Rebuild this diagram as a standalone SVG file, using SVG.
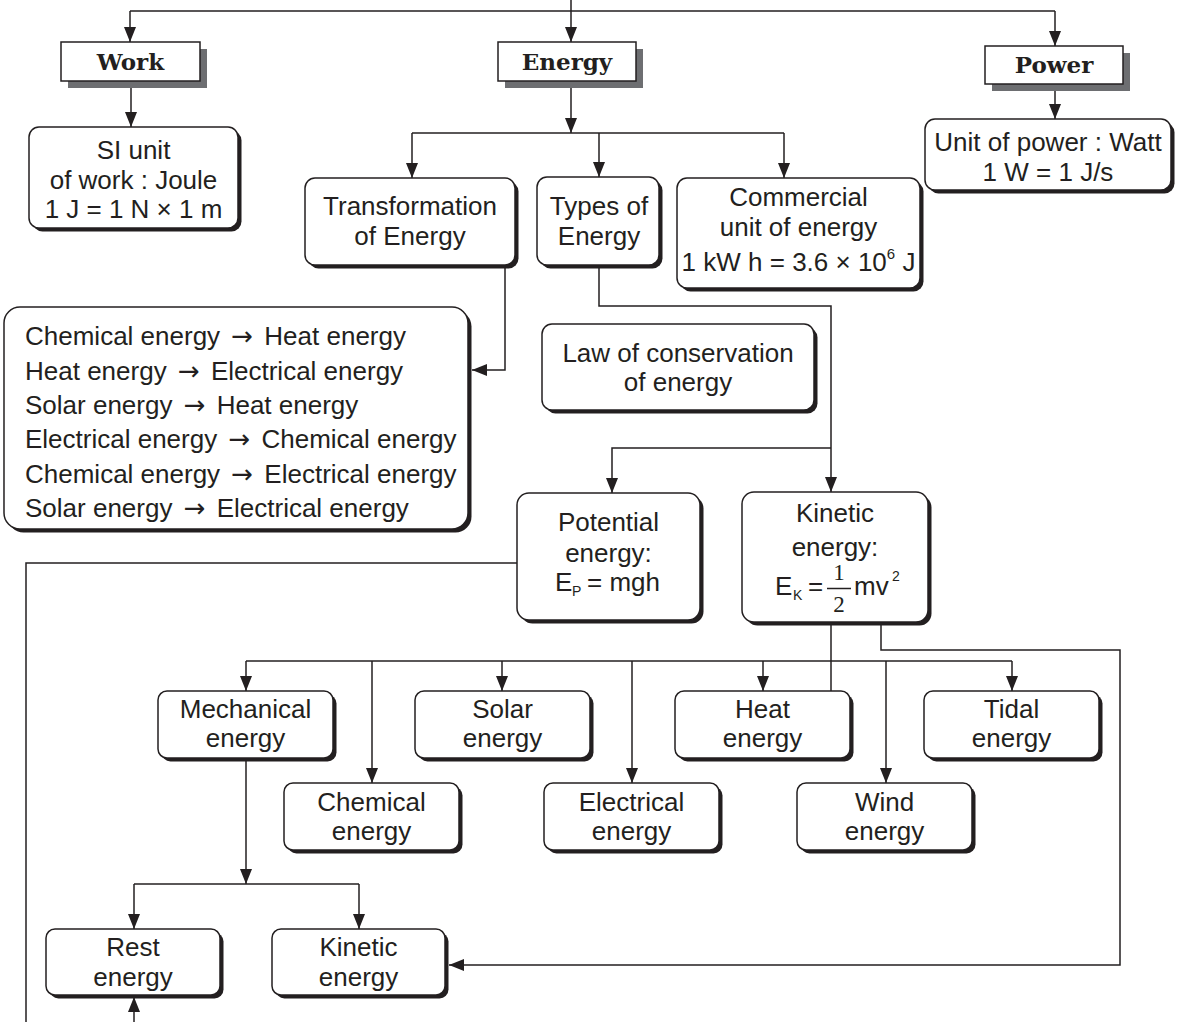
<svg xmlns="http://www.w3.org/2000/svg" width="1187" height="1022" viewBox="0 0 1187 1022">
<style>
.box{fill:#fff;stroke:#231f20;stroke-width:1.5}
.sh{fill:#231f20}
.hsh{fill:#6d6e71}
.t{font-family:"Liberation Sans",Arial,sans-serif;font-size:26px;fill:#231f20;text-anchor:middle}
.tl{font-family:"Liberation Sans",Arial,sans-serif;font-size:26px;fill:#231f20}
.sub{font-family:"Liberation Sans",Arial,sans-serif;font-size:14px;fill:#231f20}
.ar{font-family:"DejaVu Sans",sans-serif;font-size:26px}
.h{font-family:"DejaVu Serif",serif;font-weight:bold;font-size:23px;fill:#231f20;text-anchor:middle}
.sv{font-family:"Liberation Serif","Times New Roman",serif;font-size:23px;fill:#231f20;text-anchor:middle}
.c{fill:none;stroke:#231f20;stroke-width:1.5}
.a{marker-end:url(#ah)}
</style>
<defs>
<marker id="ah" markerUnits="userSpaceOnUse" markerWidth="15" markerHeight="12" refX="15" refY="6" orient="auto">
<path d="M0,0 L15,6 L0,12 Z" fill="#231f20"/>
</marker>
</defs>
<rect width="1187" height="1022" fill="#fff"/>

<g id="connectors">
<path class="c" d="M571,0 V11 M130,11 H1055"/>
<path class="c a" d="M130,11 V42"/>
<path class="c a" d="M571,11 V42"/>
<path class="c a" d="M1055,11 V46"/>
<path class="c a" d="M131,81 V127"/>
<path class="c a" d="M571,81 V133"/>
<path class="c" d="M412,133 H784"/>
<path class="c a" d="M412,133 V178"/>
<path class="c a" d="M599,133 V177"/>
<path class="c a" d="M784,133 V178"/>
<path class="c a" d="M1055,84 V119"/>
<path class="c a" d="M505,265 V370 H472"/>
<path class="c a" d="M599,265 V306 H831 V492"/>
<path class="c a" d="M831,448 H612 V493"/>
<path class="c" d="M517,563 H26 V1022"/>
<path class="c" d="M831,622 V691"/>
<path class="c" d="M246,661 H1012"/>
<path class="c a" d="M246,661 V691"/>
<path class="c a" d="M372,661 V783"/>
<path class="c a" d="M502,661 V691"/>
<path class="c a" d="M632,661 V783"/>
<path class="c a" d="M763,661 V691"/>
<path class="c a" d="M886,661 V783"/>
<path class="c a" d="M1012,661 V691"/>
<path class="c a" d="M881,622 V650 H1120 V965 H449"/>
<path class="c a" d="M246,758 V884"/>
<path class="c" d="M134,884 H359"/>
<path class="c a" d="M134,884 V929"/>
<path class="c a" d="M359,884 V929"/>
<path class="c a" d="M134,1022 V997"/>
</g>

<g id="work">
<rect class="hsh" x="68" y="49" width="139" height="39"/>
<rect class="box" x="61" y="42" width="139" height="39"/>
<text class="h" x="130.5" y="70">Work</text>
</g>
<g id="energy">
<rect class="hsh" x="505" y="49" width="138" height="39"/>
<rect class="box" x="498" y="42" width="138" height="39"/>
<text class="h" x="567" y="70">Energy</text>
</g>
<g id="power">
<rect class="hsh" x="992" y="53" width="138" height="38"/>
<rect class="box" x="985" y="46" width="138" height="38"/>
<text class="h" x="1054" y="73">Power</text>
</g>

<g id="si-unit">
<rect class="sh" x="32.5" y="130.5" width="209" height="101" rx="10"/>
<rect class="box" x="29" y="127" width="209" height="101" rx="10"/>
<text class="t" x="133.5" y="159">SI unit</text>
<text class="t" x="133.5" y="189">of work : Joule</text>
<text class="t" x="133.5" y="218">1 J = 1 N × 1 m</text>
</g>

<g id="transformation">
<rect class="sh" x="308.5" y="181.5" width="210" height="87" rx="10"/>
<rect class="box" x="305" y="178" width="210" height="87" rx="10"/>
<text class="t" x="410" y="215">Transformation</text>
<text class="t" x="410" y="245">of Energy</text>
</g>

<g id="types">
<rect class="sh" x="540.5" y="180.5" width="122" height="88" rx="10"/>
<rect class="box" x="537" y="177" width="122" height="88" rx="10"/>
<text class="t" x="599" y="215">Types of</text>
<text class="t" x="599" y="245">Energy</text>
</g>

<g id="commercial">
<rect class="sh" x="680.5" y="181.5" width="243" height="110" rx="10"/>
<rect class="box" x="677" y="178" width="243" height="110" rx="10"/>
<text class="t" x="798.5" y="206">Commercial</text>
<text class="t" x="798.5" y="236">unit of energy</text>
<text class="t" x="798.5" y="271">1 kW h = 3.6 × 10<tspan style="font-size:15px" dy="-12">6</tspan><tspan dy="12"> J</tspan></text>
</g>

<g id="power-unit">
<rect class="sh" x="928.5" y="122.5" width="246" height="71" rx="10"/>
<rect class="box" x="925" y="119" width="246" height="71" rx="10"/>
<text class="t" x="1048" y="151">Unit of power : Watt</text>
<text class="t" x="1048" y="181">1 W = 1 J/s</text>
</g>

<g id="transformations-list">
<rect class="sh" x="7.5" y="310.5" width="464" height="222" rx="16"/>
<rect class="box" x="4" y="307" width="464" height="222" rx="16"/>
<text class="tl" x="25" y="345">Chemical energy <tspan class="ar" dx="4">→</tspan><tspan dx="4"> Heat energy</tspan></text>
<text class="tl" x="25" y="379.5">Heat energy <tspan class="ar" dx="4">→</tspan><tspan dx="4"> Electrical energy</tspan></text>
<text class="tl" x="25" y="414">Solar energy <tspan class="ar" dx="4">→</tspan><tspan dx="4"> Heat energy</tspan></text>
<text class="tl" x="25" y="448">Electrical energy <tspan class="ar" dx="4">→</tspan><tspan dx="4"> Chemical energy</tspan></text>
<text class="tl" x="25" y="482.5">Chemical energy <tspan class="ar" dx="4">→</tspan><tspan dx="4"> Electrical energy</tspan></text>
<text class="tl" x="25" y="517">Solar energy <tspan class="ar" dx="4">→</tspan><tspan dx="4"> Electrical energy</tspan></text>
</g>

<g id="law">
<rect class="sh" x="545.5" y="327.5" width="272" height="86" rx="10"/>
<rect class="box" x="542" y="324" width="272" height="86" rx="10"/>
<text class="t" x="678" y="362">Law of conservation</text>
<text class="t" x="678" y="391">of energy</text>
</g>

<g id="potential">
<rect class="sh" x="520.5" y="496.5" width="183" height="127" rx="12"/>
<rect class="box" x="517" y="493" width="183" height="127" rx="12"/>
<text class="t" x="608.5" y="531">Potential</text>
<text class="t" x="608.5" y="562">energy:</text>
<text class="tl" x="555" y="591">E</text>
<text class="sub" x="572" y="596">P</text>
<text class="tl" x="587" y="591">= mgh</text>
</g>

<g id="kinetic">
<rect class="sh" x="745.5" y="495.5" width="186" height="130" rx="12"/>
<rect class="box" x="742" y="492" width="186" height="130" rx="12"/>
<text class="t" x="835" y="522">Kinetic</text>
<text class="t" x="835" y="556">energy:</text>
<text class="tl" x="775" y="595">E</text>
<text class="sub" x="793" y="600">K</text>
<text class="tl" x="808" y="595">=</text>
<line x1="827" y1="588.5" x2="851" y2="588.5" stroke="#231f20" stroke-width="1.5"/>
<text class="sv" x="839" y="580">1</text>
<text class="sv" x="839" y="612">2</text>
<text class="tl" x="854" y="595">mv</text>
<text class="sub" x="892" y="581">2</text>
</g>

<g id="mechanical">
<rect class="sh" x="161.5" y="694.5" width="175" height="67" rx="9"/>
<rect class="box" x="158" y="691" width="175" height="67" rx="9"/>
<text class="t" x="245.5" y="718">Mechanical</text>
<text class="t" x="245.5" y="747">energy</text>
</g>
<g id="solar">
<rect class="sh" x="418.5" y="694.5" width="175" height="67" rx="9"/>
<rect class="box" x="415" y="691" width="175" height="67" rx="9"/>
<text class="t" x="502.5" y="718">Solar</text>
<text class="t" x="502.5" y="747">energy</text>
</g>
<g id="heat">
<rect class="sh" x="678.5" y="694.5" width="175" height="67" rx="9"/>
<rect class="box" x="675" y="691" width="175" height="67" rx="9"/>
<text class="t" x="762.5" y="718">Heat</text>
<text class="t" x="762.5" y="747">energy</text>
</g>
<g id="tidal">
<rect class="sh" x="927.5" y="694.5" width="175" height="67" rx="9"/>
<rect class="box" x="924" y="691" width="175" height="67" rx="9"/>
<text class="t" x="1011.5" y="718">Tidal</text>
<text class="t" x="1011.5" y="747">energy</text>
</g>
<g id="chemical">
<rect class="sh" x="287.5" y="786.5" width="175" height="67" rx="9"/>
<rect class="box" x="284" y="783" width="175" height="67" rx="9"/>
<text class="t" x="371.5" y="811">Chemical</text>
<text class="t" x="371.5" y="840">energy</text>
</g>
<g id="electrical">
<rect class="sh" x="547.5" y="786.5" width="175" height="67" rx="9"/>
<rect class="box" x="544" y="783" width="175" height="67" rx="9"/>
<text class="t" x="631.5" y="811">Electrical</text>
<text class="t" x="631.5" y="840">energy</text>
</g>
<g id="wind">
<rect class="sh" x="800.5" y="786.5" width="175" height="67" rx="9"/>
<rect class="box" x="797" y="783" width="175" height="67" rx="9"/>
<text class="t" x="884.5" y="811">Wind</text>
<text class="t" x="884.5" y="840">energy</text>
</g>
<g id="rest">
<rect class="sh" x="49.5" y="932.5" width="174" height="66" rx="9"/>
<rect class="box" x="46" y="929" width="174" height="66" rx="9"/>
<text class="t" x="133" y="956">Rest</text>
<text class="t" x="133" y="986">energy</text>
</g>
<g id="kinetic-energy">
<rect class="sh" x="275.5" y="932.5" width="173" height="66" rx="9"/>
<rect class="box" x="272" y="929" width="173" height="66" rx="9"/>
<text class="t" x="358.5" y="956">Kinetic</text>
<text class="t" x="358.5" y="986">energy</text>
</g>
</svg>
